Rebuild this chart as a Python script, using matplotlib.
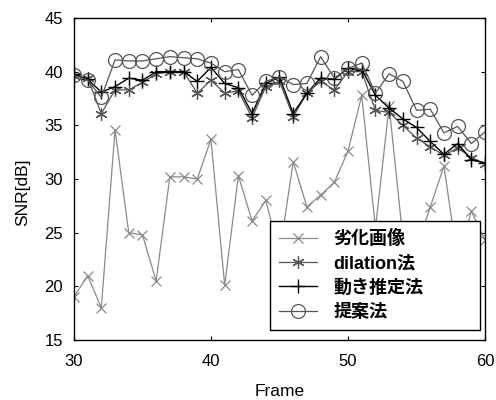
import matplotlib
matplotlib.use("Agg")
import matplotlib.pyplot as plt

# 字体
plt.rcParams['font.family'] = ['Liberation Sans', 'Noto Sans CJK JP']

# 数据
frames = list(range(30, 61))
degraded = [19.0, 21.0, 18.0, 34.6, 25.0, 24.8, 20.5, 30.2, 30.2, 30.0,
            33.7, 20.1, 30.3, 26.1, 28.0, 23.0, 31.6, 27.4, 28.5, 29.7,
            32.6, 37.8, 25.4, 36.8, 24.5, 23.5, 27.4, 31.2, 22.4, 27.0, 24.3]
dilation = [39.6, 39.4, 36.1, 38.3, 38.3, 39.0, 39.8, 40.0, 40.0, 38.0,
            39.2, 38.0, 38.2, 35.7, 38.6, 39.1, 35.8, 38.0, 39.1, 38.3,
            40.0, 40.0, 36.4, 36.2, 35.0, 33.8, 33.0, 32.2, 32.9, 32.0, 31.4]
motion = [39.8, 39.3, 38.1, 38.6, 39.4, 39.2, 40.0, 40.0, 40.0, 39.1,
          40.4, 38.9, 38.5, 36.1, 38.9, 39.5, 36.1, 38.0, 39.4, 39.3,
          40.3, 40.2, 37.8, 36.6, 35.6, 34.8, 33.5, 32.3, 33.3, 31.8, 31.5]
proposed = [39.7, 39.2, 37.6, 41.1, 41.0, 41.0, 41.2, 41.4, 41.3, 41.2,
            40.8, 40.0, 40.2, 37.8, 39.1, 39.5, 38.8, 38.9, 41.4, 39.4,
            40.3, 40.8, 38.0, 39.8, 39.1, 36.4, 36.5, 34.3, 34.9, 33.3, 34.4]

labels = ["劣化画像", "dilation法", "動き推定法", "提案法"]

# 图形
fig = plt.figure(figsize=(4.96, 4.0), dpi=100)
ax = fig.add_axes([0.149, 0.15, 0.829, 0.805])

ax.plot(frames, degraded, color="#8a8a8a", lw=0.9, marker="x", ms=7,
        mew=0.9, label=labels[0])
ax.plot(frames, dilation, color="#555555", lw=0.9, marker=(6, 2, 0), ms=9,
        mew=0.9, label=labels[1])
ax.plot(frames, motion, color="black", lw=1.0, marker="+", ms=10,
        mew=1.0, label=labels[2])
ax.plot(frames, proposed, color="#555555", lw=0.9, marker="o", ms=10,
        mfc="none", mew=0.9, label=labels[3])

# 刻度
ax.set_xlim(30, 60)
ax.set_ylim(15, 45)
ax.set_xticks([30, 40, 50, 60])
ax.set_yticks(range(15, 46, 5))
ax.tick_params(direction="in", top=True, right=True, length=3,
               labelsize=12)
ax.tick_params(axis="x", pad=10)
ax.tick_params(axis="y", pad=8)
for s in ax.spines.values():
    s.set_linewidth(1.0)

ax.set_xlabel("Frame", fontsize=12.5, labelpad=11)
ax.set_ylabel("SNR[dB]", fontsize=12.5)
ax.yaxis.set_label_coords(-0.107, 0.46)

# 图例
leg = ax.legend(loc="lower left", bbox_to_anchor=(0.477, 0.031, 0.51, 0.342),
                mode="expand", borderaxespad=0, fancybox=False, framealpha=1,
                edgecolor="black", prop={"size": 13, "weight": "bold"},
                handlelength=2.1, handletextpad=0.9,
                labelspacing=0.4, borderpad=0.5)
leg.get_frame().set_linewidth(1.0)

fig.savefig("out.png", dpi=100)
